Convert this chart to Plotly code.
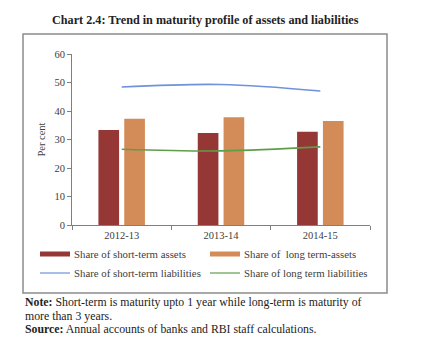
import plotly.graph_objects as go

# Data
years = ["2012-13", "2013-14", "2014-15"]
short_term_assets = [33.3, 32.3, 32.7]
long_term_assets = [37.3, 37.8, 36.5]
short_term_liabilities = [48.4, 49.3, 47.0]
long_term_liabilities = [26.6, 26.0, 27.4]

series_names = [
    "Share of short-term assets",
    "Share of  long term-assets",
    "Share of short-term liabilities",
    "Share of long term liabilities",
]

C_SA = "#953735"
C_LA = "#D38B57"
C_SL = "#6F92DA"
C_LL = "#5E9E4B"
TXT = "#404040"
SERIF = "Liberation Serif, DejaVu Serif, serif"

W, H = 423, 348
L, R, T, B = 72, 370, 54, 225  # plot area in px


def px(x):
    return (x - L) / (R - L)


def py(y):
    return (B - y) / (B - T)


fig = go.Figure()
fig.add_bar(x=years, y=short_term_assets, name=series_names[0], marker_color=C_SA,
            marker_line_width=0)
fig.add_bar(x=years, y=long_term_assets, name=series_names[1], marker_color=C_LA,
            marker_line_width=0)
fig.add_scatter(x=years, y=short_term_liabilities, name=series_names[2], mode="lines",
                line=dict(color=C_SL, width=1.6, shape="spline"))
fig.add_scatter(x=years, y=long_term_liabilities, name=series_names[3], mode="lines",
                line=dict(color=C_LL, width=1.6, shape="spline"))

shapes = []
annotations = []

# outer frame around chart area
shapes.append(dict(type="rect", xref="paper", yref="paper",
                   x0=px(23), x1=px(387), y0=py(293), y1=py(34),
                   line=dict(color="#8c8c8c", width=1.5)))

# legend (two columns)
legend_items = [
    (40, 254, "bar", C_SA, series_names[0]),
    (210, 254, "bar", C_LA, series_names[1]),
    (40, 273, "line", C_SL, series_names[2]),
    (210, 273, "line", C_LL, series_names[3]),
]
for x0, yc, kind, col, name in legend_items:
    if kind == "bar":
        shapes.append(dict(type="rect", xref="paper", yref="paper",
                           x0=px(x0), x1=px(x0 + 30), y0=py(yc + 2.5), y1=py(yc - 2.5),
                           fillcolor=col, line=dict(width=0)))
    else:
        shapes.append(dict(type="line", xref="paper", yref="paper",
                           x0=px(x0), x1=px(x0 + 30), y0=py(yc), y1=py(yc),
                           line=dict(color=col, width=1.2)))
    annotations.append(dict(xref="paper", yref="paper", x=px(x0 + 32), y=py(yc),
                            xanchor="left", yanchor="middle", showarrow=False,
                            text=name, font=dict(family=SERIF, size=10.8, color=TXT)))

# title
annotations.append(dict(xref="paper", yref="paper", x=px(50), y=py(20),
                        xanchor="left", yanchor="middle", showarrow=False,
                        text="<b>Chart 2.4: Trend in maturity profile of assets and liabilities</b>",
                        font=dict(family=SERIF, size=12.2, color="#222222")))

# notes
notes = [
    "<b>Note:</b> Short-term is maturity upto 1 year while long-term is maturity of",
    "more than 3 years.",
    "<b>Source:</b> Annual accounts of banks and RBI staff calculations.",
]
for i, line in enumerate(notes):
    annotations.append(dict(xref="paper", yref="paper", x=px(23), y=py(302 + 13.5 * i),
                            xanchor="left", yanchor="middle", showarrow=False,
                            text=line, font=dict(family=SERIF, size=11.8, color="#222222")))

fig.update_layout(
    width=W, height=H,
    margin=dict(l=L, r=W - R, t=T, b=H - B, pad=0),
    paper_bgcolor="white", plot_bgcolor="white",
    barmode="group", bargap=0.48, bargroupgap=0.2,
    showlegend=False,
    shapes=shapes, annotations=annotations,
    font=dict(family=SERIF, color=TXT),
)
fig.update_xaxes(
    showline=True, linecolor="#7f7f7f", linewidth=1,
    ticks="outside", ticklen=4, tickcolor="#7f7f7f", tickson="boundaries",
    tickfont=dict(family=SERIF, size=10.5, color=TXT), showgrid=False,
)
fig.update_yaxes(
    range=[0, 60], dtick=10, showline=True, linecolor="#7f7f7f", linewidth=1,
    ticks="outside", ticklen=4, tickcolor="#7f7f7f", showgrid=False, zeroline=False,
    tickfont=dict(family=SERIF, size=10.5, color=TXT),
    title=dict(text="Per cent", font=dict(family=SERIF, size=10.5, color=TXT), standoff=6),
)

fig.write_html("out.html")
